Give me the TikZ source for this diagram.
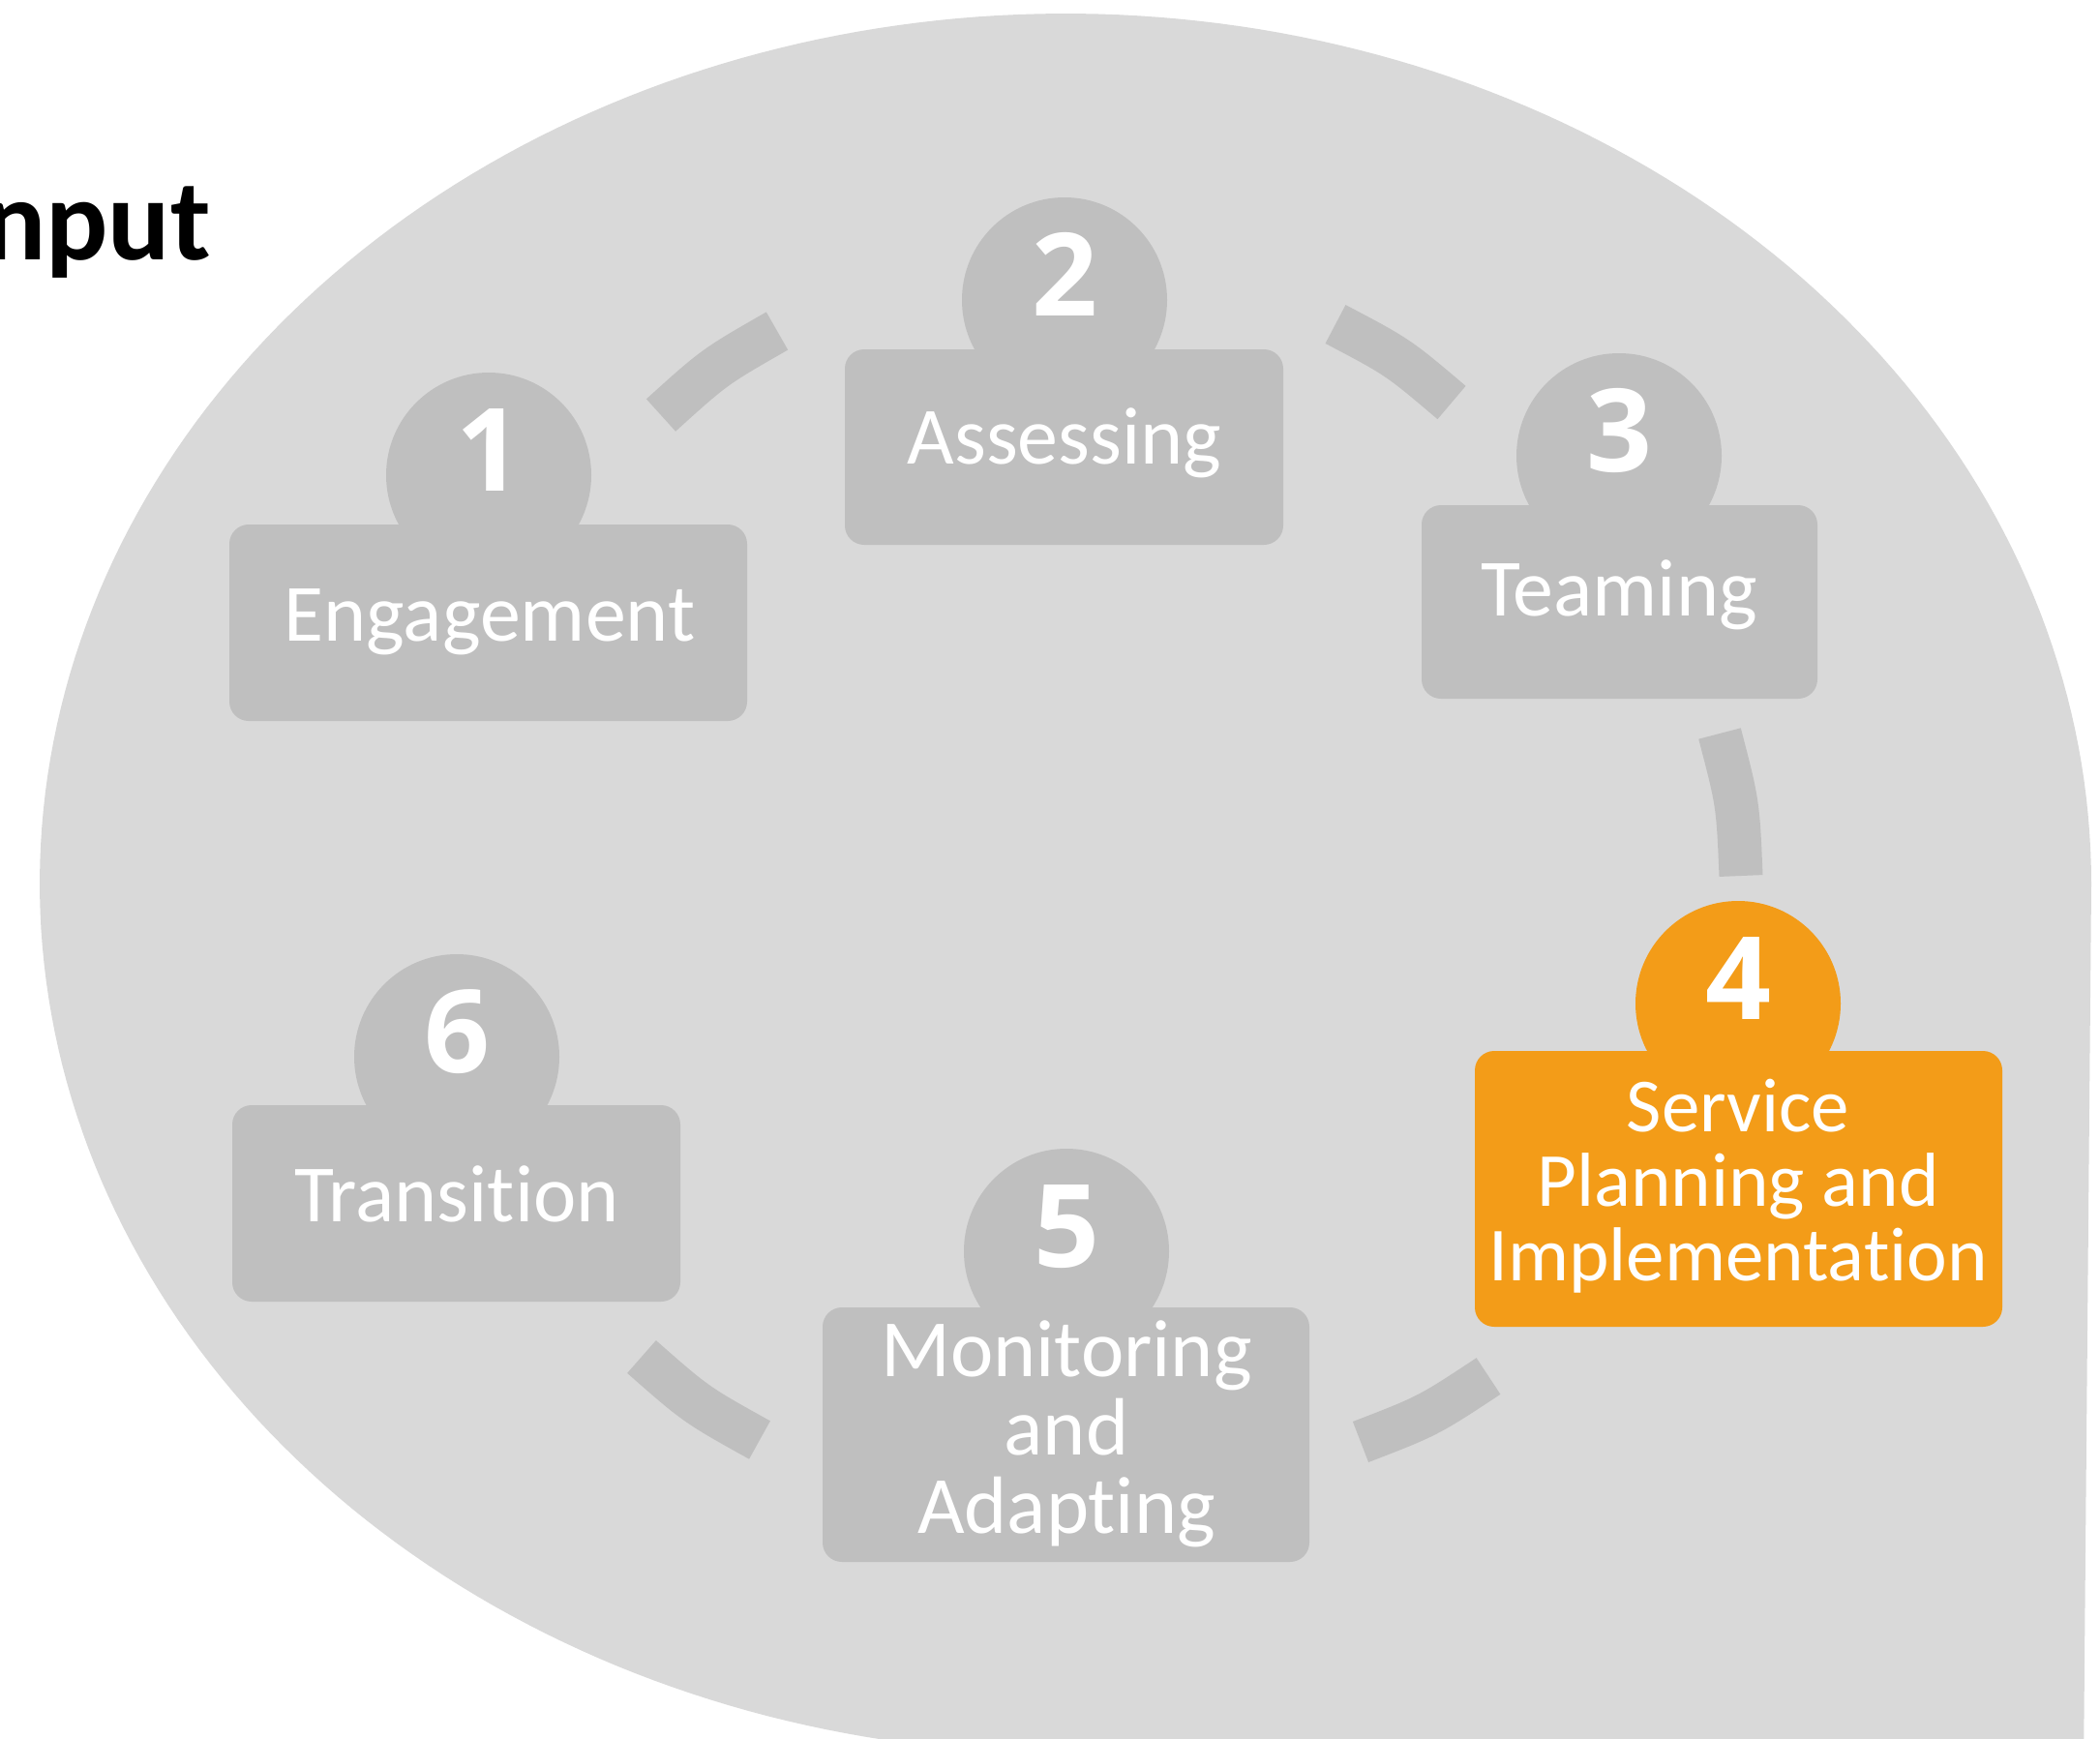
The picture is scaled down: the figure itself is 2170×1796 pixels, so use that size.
\documentclass[tikz,border=0pt]{standalone}
\usepackage{fontspec}
\setmainfont{Carlito}[Ligatures=CommonOff]
\newfontfamily\digitfont{Open Sans}
\definecolor{bgc}{HTML}{D9D9D9}
\definecolor{shp}{HTML}{BFBFBF}
\definecolor{orng}{HTML}{F39C18}
\begin{document}
\begin{tikzpicture}[x=1pt,y=-1pt,
  card/.style={rectangle, rounded corners=20pt, inner sep=0pt, fill=shp},
  badge/.style={circle, inner sep=0pt, minimum size=212pt, fill=shp},
  num/.style={text=white, inner sep=0pt, anchor=base, font=\digitfont\fontsize{119}{119}\selectfont\bfseries},
  lbl/.style={text=white, inner sep=0pt, anchor=base, font=\fontsize{84}{84}\selectfont},
  lblsmall/.style={text=white, inner sep=0pt, anchor=base, font=\fontsize{79}{79}\selectfont},
  dashseg/.style={draw=shp, line width=45pt},
]
\useasboundingbox (0,0) rectangle (2170,1796);
\clip (0,0) rectangle (2170,1796);
\fill[white] (0,0) rectangle (2170,1796);
% background bubble
\fill[bgc] plot[domain=0:-270, samples=240, variable=\t] ({1101+1060*cos(\t)}, {913+899*sin(\t)}) -- (2153,1830) -- cycle;

% title fragment
\node[anchor=base east, inner sep=0pt, font=\fontsize{120}{120}\selectfont\bfseries] (title) at (218,268) {nput};

% dashed cycle segments
\coordinate (d12a) at (683,429);   \coordinate (d12c) at (738.3,379.0);  \coordinate (d12b) at (803,342);
\coordinate (d23a) at (1380,335);  \coordinate (d23c) at (1444.5,368.9); \coordinate (d23b) at (1500,416);
\coordinate (d34a) at (1777,758);  \coordinate (d34c) at (1795.9,830.3); \coordinate (d34b) at (1799,905);
\coordinate (d45a) at (1538,1422); \coordinate (d45c) at (1475.7,1463.1); \coordinate (d45b) at (1406,1490);
\coordinate (d56a) at (785,1488);  \coordinate (d56c) at (719.4,1451.6); \coordinate (d56b) at (663,1402);
\draw[dashseg] (d12a) .. controls (d12c) .. (d12b);
\draw[dashseg] (d23a) .. controls (d23c) .. (d23b);
\draw[dashseg] (d34a) .. controls (d34c) .. (d34b);
\draw[dashseg] (d45a) .. controls (d45c) .. (d45b);
\draw[dashseg] (d56a) .. controls (d56c) .. (d56b);

% step 1
\node[badge] (c1) at (505,491) {};
\node[card, minimum width=535pt, minimum height=203pt] (b1) at (504.5,643.5) {};
\node[num] (n1) at (505,507) {1};
\node[lbl] (t1) at (506,662) {Engagement};

% step 2
\node[badge] (c2) at (1100,310) {};
\node[card, minimum width=453pt, minimum height=202pt] (b2) at (1099.5,462) {};
\node[num] (n2) at (1100,326) {2};
\node[lbl] (t2) at (1100,479) {Assessing};

% step 3
\node[badge] (c3) at (1673,471) {};
\node[card, minimum width=409pt, minimum height=200pt] (b3) at (1673.5,622) {};
\node[num] (n3) at (1673,487) {3};
\node[lbl] (t3) at (1673,636) {Teaming};

% step 4 (highlighted)
\node[badge, fill=orng] (c4) at (1796,1037) {};
\node[card, fill=orng, minimum width=545pt, minimum height=285pt] (b4) at (1796.5,1228.5) {};
\node[num] (n4) at (1796,1053) {4};
\node[lblsmall] (t4a) at (1796,1169) {Service};
\node[lblsmall] (t4b) at (1796,1246) {Planning and};
\node[lblsmall] (t4c) at (1796,1323) {Implementation};

% step 5
\node[badge] (c5) at (1102,1293) {};
\node[card, minimum width=503pt, minimum height=263pt] (b5) at (1101.5,1482.5) {};
\node[num] (n5) at (1102,1309) {5};
\node[lbl] (t5a) at (1102,1422) {Monitoring};
\node[lbl] (t5b) at (1102,1503) {and};
\node[lbl] (t5c) at (1102,1584) {Adapting};

% step 6
\node[badge] (c6) at (472,1092) {};
\node[card, minimum width=463pt, minimum height=203pt] (b6) at (471.5,1243.5) {};
\node[num] (n6) at (472,1108) {6};
\node[lbl] (t6) at (472,1262) {Transition};
\end{tikzpicture}
\end{document}
